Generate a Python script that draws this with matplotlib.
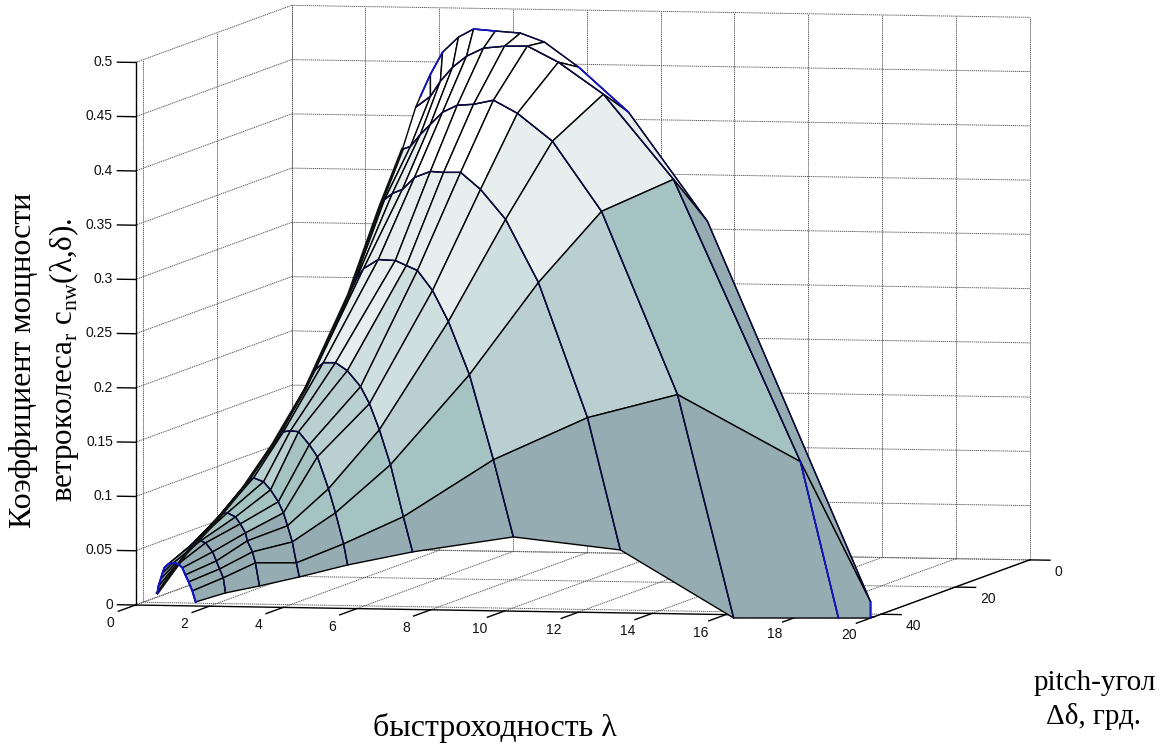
import numpy as np
import matplotlib
matplotlib.use("Agg")
import matplotlib.pyplot as plt
from mpl_toolkits.mplot3d import proj3d

plt.rcParams['font.family'] = ['Liberation Sans', 'DejaVu Sans']
plt.rcParams['mathtext.fontset'] = 'custom'
plt.rcParams['mathtext.rm'] = 'Liberation Serif'

# pitch-angle value of each mesh row (front row first)
delta_rows = [42, 41.6, 41.2, 40.8, 40.4, 40, 39.6, 39.2, 38.8, 38.4, 38, 37.6, 37.2]

# tip-speed ratio at every mesh node, one list per mesh column
lam_1 = [1.63, 1.50, 1.36, 1.23, 1.11, 0.96, 0.79, 0.61, 0.46, 0.37, 0.28, 0.18, 0.11]
lam_2 = [2.44, 2.34, 2.20, 2.07, 1.93, 1.70, 1.52, 1.37, 1.22, 1.13, 1.04, 0.97, 0.90]
lam_3 = [3.36, 3.21, 3.09, 2.91, 2.82, 2.64, 2.47, 2.21, 2.01, 1.91, 1.82, 1.75, 1.66]
lam_4 = [4.44, 4.32, 4.17, 4.00, 3.85, 3.67, 3.42, 3.19, 2.88, 2.70, 2.61, 2.51, 2.42]
lam_5 = [5.75, 5.60, 5.34, 5.11, 4.77, 4.51, 4.18, 3.92, 3.69, 3.54, 3.42, 3.33, 3.23]
lam_6 = [7.51, 7.22, 6.83, 6.49, 6.18, 5.90, 5.50, 5.14, 4.77, 4.51, 4.37, 4.25, 4.12]
lam_7 = [10.24, 9.66, 8.97, 8.36, 7.89, 7.44, 7.10, 6.76, 6.26, 5.82, 5.59, 5.44, 5.29]
lam_8 = [13.14, 12.21, 10.84, 9.91, 9.19, 8.61, 8.11, 7.71, 7.24, 6.87, 6.56, 6.31, 6.13]
lam_9 = [16.21, 14.65, 12.55, 11.18, 10.19, 9.50, 8.92, 8.44, 8.00, 7.63, 7.32, 7.01, 6.75]
lam_10 = [19.05, 17.98, 14.50, 12.56, 11.30, 10.42, 9.76, 9.15, 8.65, 8.23, 7.86, 7.55, 7.11]
lam_11 = [19.92, 19.88, 15.42, 13.24, 11.85, 10.88, 10.19, 9.47, 8.84, 8.39, 7.92, 7.55, 7.24]

# power coefficient at the same nodes
cp_1 = [.0037, .0133, .0210, .0269, .0328, .0359, .0362, .0347, .0305, .0252, .0192, .0121, .0052]
cp_2 = [.0125, .0258, .0334, .0402, .0480, .0557, .0569, .0563, .0530, .0506, .0473, .0449, .0425]
cp_3 = [.0194, .0401, .0496, .0592, .0660, .0737, .0795, .0826, .0811, .0787, .0763, .0739, .0706]
cp_4 = [.0283, .0407, .0594, .0737, .0850, .0946, .1050, .1118, .1148, .1114, .1091, .1057, .1025]
cp_5 = [.0401, .0589, .0869, .1084, .1372, .1477, .1590, .1593, .1577, .1534, .1501, .1468, .1435]
cp_6 = [.0531, .0848, .1320, .1636, .1869, .2020, .2160, .2227, .2220, .2149, .2079, .2017, .1956]
cp_7 = [.0684, .1387, .2162, .2644, .2922, .3099, .3138, .3177, .3179, .3088, .2990, .2910, .2831]
cp_8 = [.0580, .1789, .3022, .3594, .3861, .4010, .4002, .4004, .3941, .3823, .3780, .3718, .3638]
cp_9 = [-.0030, .2015, .3687, .4321, .4568, .4680, .4634, .4618, .4546, .4428, .4329, .4211, .4177]
cp_10 = [-.0015, .1415, .3993, .4762, .5045, .5184, .5174, .5148, .5066, .4957, .4821, .4675, .4567]
cp_11 = [-.0010, .0133, .3611, .4600, .5002, .5223, .5297, .5307, .5317, .5235, .5089, .4878, .4669]

x_ticks = list(range(0, 21, 2))
y_ticks = [0, 20, 40]
z_ticks = [0, .05, .1, .15, .2, .25, .3, .35, .4, .45, .5]
z_labels = ['0', '0.05', '0.1', '0.15', '0.2', '0.25', '0.3', '0.35', '0.4', '0.45', '0.5']
level_edges = [.075, .15, .225, .31, .445]
level_colors = ['#96acb3', '#a4c3c2', '#b9cfd2', '#cfdfdf', '#e6eeee', '#ffffff']

W, H = 1165, 745
fig = plt.figure(figsize=(W / 100, H / 100), dpi=100, facecolor='white')
ax = fig.add_axes([0, 0, 1, 1], projection='3d', proj_type='ortho', facecolor='none')
ax.computed_zorder = False
ax.view_init(elev=4.42, azim=-78.1)
ax.set_box_aspect((754, 757, 544))
ax.set_xlim(0, 20, view_margin=0)
ax.set_ylim(42, 0, view_margin=0)
ax.set_zlim(0, .5, view_margin=0)

L = np.array([lam_1, lam_2, lam_3, lam_4, lam_5, lam_6, lam_7, lam_8, lam_9, lam_10, lam_11]).T
C = np.array([cp_1, cp_2, cp_3, cp_4, cp_5, cp_6, cp_7, cp_8, cp_9, cp_10, cp_11]).T
D = np.tile(np.array(delta_rows)[:, None], (1, L.shape[1]))

# grid on the floor, the back wall and the left wall
grid_kw = dict(color='#555555', lw=0.7, ls=(0, (1.2, 0.8)), zorder=0)
for t in x_ticks:
    ax.plot([t, t], [0, 42], [0, 0], **grid_kw)
    ax.plot([t, t], [0, 0], [0, .5], **grid_kw)
for t in y_ticks:
    ax.plot([0, 20], [t, t], [0, 0], **grid_kw)
    ax.plot([0, 0], [t, t], [0, .5], **grid_kw)
for t in z_ticks:
    ax.plot([0, 20], [0, 0], [t, t], **grid_kw)
    ax.plot([0, 0], [0, 42], [t, t], **grid_kw)

# axis lines and tick marks on the front-left / front / right edges
line_kw = dict(color='black', lw=1.0, zorder=1)
ax.plot([0, 20], [42, 42], [0, 0], **line_kw)
ax.plot([20, 20], [0, 42], [0, 0], **line_kw)
ax.plot([0, 0], [42, 42], [0, .5], **line_kw)
for t in x_ticks:
    ax.plot([t, t], [42, 46.6], [0, 0], **line_kw)
for t in y_ticks:
    ax.plot([20, 20.55], [t, t], [0, 0], **line_kw)
for t in z_ticks:
    ax.plot([0, -.49], [42, 42], [t, t], **line_kw)

# every facet takes the colour of one corner, as in the original faceted surface
faces = np.empty(C.shape, dtype=object)
for r in range(C.shape[0]):
    for c in range(C.shape[1]):
        corner = C[r, min(c + 1, C.shape[1] - 1)]
        faces[r, c] = matplotlib.colors.to_rgba(level_colors[np.searchsorted(level_edges, corner)])
ax.plot_surface(L, D, C, facecolors=faces, rstride=1, cstride=1, shade=False,
                edgecolor='black', linewidth=1.0, antialiased=True, zorder=2)
for c in range(L.shape[1]):
    ax.plot(L[:, c], D[:, c], C[:, c], color='#0c0c48', lw=1.0, zorder=3)
ax.plot(L[-1, :9], D[-1, :9], C[-1, :9], color='#111111', lw=2.2, zorder=3)
blue = '#1414c8'
ax.plot(L[:, 0], D[:, 0], C[:, 0], color=blue, lw=1.5, zorder=4)
for c, a, b in [(9, 0, 2), (10, 0, 2), (10, 3, 5), (10, 7, 9), (10, 10, 13)]:
    ax.plot(L[a:b, c], D[a:b, c], C[a:b, c], color=blue, lw=1.2, zorder=4)

ax.grid(False)
ax.set_xticks([])
ax.set_yticks([])
ax.set_zticks([])
for axis in (ax.xaxis, ax.yaxis, ax.zaxis):
    axis.set_pane_color((1, 1, 1, 1))
    axis.pane.set_edgecolor('white')
    axis.line.set_linewidth(0)
    axis.label.set_visible(False)
    axis.offsetText.set_visible(False)


def pixel(x, y, z):
    xp, yp, _ = proj3d.proj_transform(x, y, z, ax.get_proj())
    return ax.transData.transform((xp, yp))


# fit the axes box so that the floor's front edge sits where the reference has it
size, left, bottom = 1.3 * H, 0.0, 0.0
for _ in range(3):
    ax.set_position([left / W, bottom / H, size / W, size / H])
    ax.apply_aspect()
    a, b = pixel(0, 42, 0), pixel(20, 42, 0)
    size *= 738.0 / (b[0] - a[0])
    ax.set_position([left / W, bottom / H, size / W, size / H])
    ax.apply_aspect()
    a = pixel(0, 42, 0)
    left += 135.5 - a[0]
    bottom += (H - 605) - a[1]
ax.set_position([left / W, bottom / H, size / W, size / H])
ax.apply_aspect()


# tick labels: flat text placed at the projected position of each tick
def tick_text(x, y, z, s, ha):
    p = pixel(x, y, z)
    fig.text(p[0] / W, p[1] / H, s, fontsize=10, color='#111111', ha=ha, va='center')


for t in x_ticks:
    tick_text(t, 48.7, -.0082, str(t), 'center')
for t in y_ticks:
    tick_text(20.68, t, -.0108, str(t), 'left')
for t, s in zip(z_ticks, z_labels):
    tick_text(-.61, 42, t, s, 'right')

serif = ['Liberation Serif', 'DejaVu Serif']
def label(px, py, s, size=21, **kw):
    fig.text(px / W, 1 - py / H, s, family=serif, fontsize=size, ha='center', va='center', **kw)

label(24, 360, 'Коэффициент мощности', size=23, rotation=90)
label(64, 360, 'ветроколеса$_{\\mathrm{r}}$ c$_{\\mathrm{nw}}$(λ,δ).', size=22.4, rotation=90)
label(495, 728, 'быстроходность λ', size=23)
label(1095, 683, 'pitch-угол')
label(1094, 717, 'Δδ, грд.')

fig.savefig('out.png', dpi=100)
